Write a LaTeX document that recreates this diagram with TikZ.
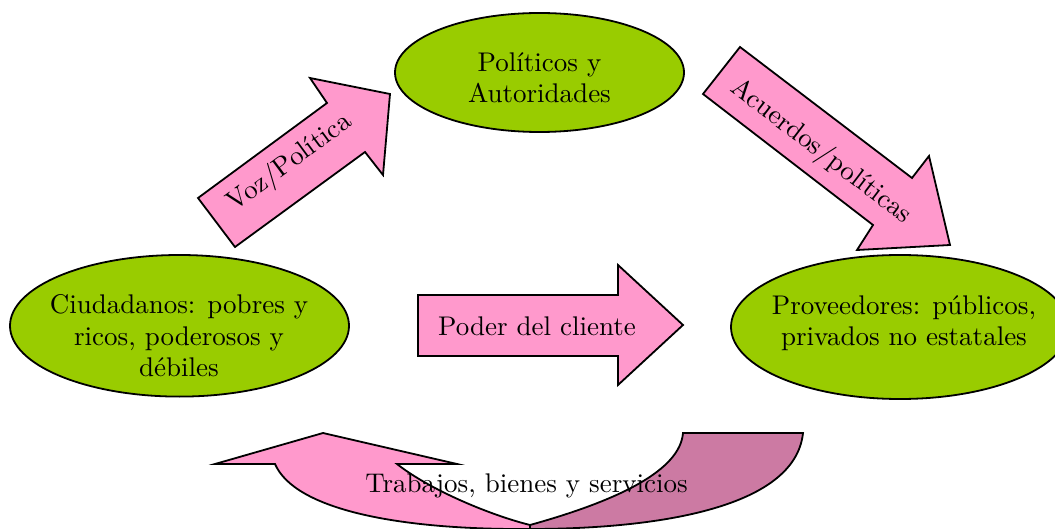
\documentclass[tikz,border=0pt]{standalone}
\usepackage{fontspec}
\setmainfont{lmroman10-regular.otf}
\definecolor{lgreen}{RGB}{153,204,0}
\definecolor{pinkA}{RGB}{255,153,204}
\definecolor{pinkB}{RGB}{204,122,163}
\begin{document}
\begin{tikzpicture}[x=1pt,y=-1pt,
  shapeline/.style={draw=black,line width=1.8pt,line join=miter},
  ell/.style={shapeline,fill=lgreen},
  arr/.style={shapeline,fill=pinkA},
  arrdark/.style={shapeline,fill=pinkB},
  lbl/.style={font=\fontsize{27}{31.5}\selectfont,align=center,inner sep=0pt}]
\useasboundingbox (0,0) rectangle (1055,529);

% ellipses
\draw[ell] (539.5,72.5) ellipse [x radius=144.5, y radius=59.5];
\draw[ell] (179.5,325.8) ellipse [x radius=169.5, y radius=70.8];
\draw[ell] (900,327) ellipse [x radius=169, y radius=72];

\node[lbl] (pol) at (539.5,77.8) {Políticos y\\Autoridades};
\node[lbl] (ciu) at (179,336) {Ciudadanos: pobres y\\ricos, poderosos y\\débiles};
\node[lbl] (pro) at (904,323) {Proveedores: públicos,\\privados no estatales};

% Voz/Politica arrow
\draw[arr] (235,247) -- (198,198) -- (327,103) -- (310,78) -- (390,94)
  -- (383,175) -- (365,152) -- cycle;
\node[lbl,rotate=36.4] (voz) at (290,163) {Voz/Política};

% Acuerdos arrow
\draw[arr] (740,47) -- (912,178) -- (929,156) -- (950,245) -- (857,250)
  -- (873,225) -- (703,94) -- cycle;
\node[lbl,rotate=-37.4] (acu) at (821,152) {Acuerdos/políticas};

% Poder del cliente arrow
\draw[arr] (418,295) -- (618,295) -- (618,265) -- (683,325) -- (618,385)
  -- (618,356) -- (418,356) -- cycle;
\node[lbl] (pod) at (537,325.8) {Poder del cliente};

% bottom curved arrow
\draw[arr] (457,464) -- (323,433) -- (215,464) -- (275,464)
  .. controls (295,510) and (400,530) .. (530,529)
  -- (530,525)
  .. controls (490,515) and (430,490) .. (397,464) -- cycle;
\draw[arrdark] (530,525) .. controls (620,500) and (680,470) .. (683,433)
  -- (803,433) .. controls (795,510) and (650,529) .. (530,529) -- cycle;
\node[lbl] (tra) at (526.5,485.5) {Trabajos, bienes y servicios};
\end{tikzpicture}
\end{document}
